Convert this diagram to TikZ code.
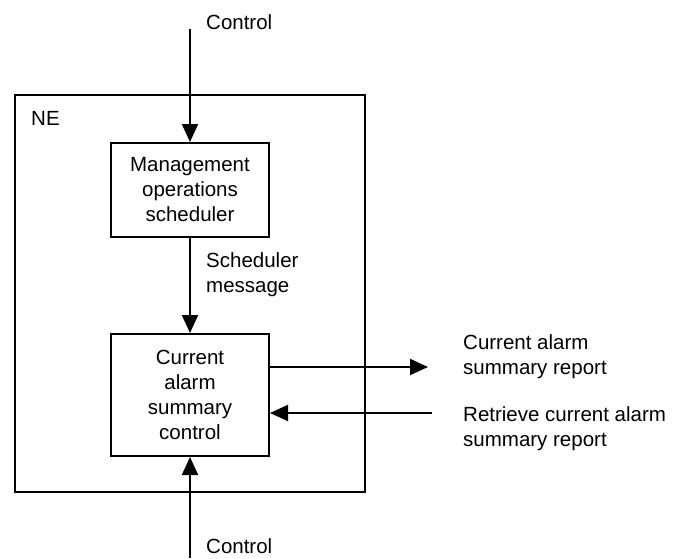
\documentclass[tikz,border=0pt]{standalone}
\usepackage{fontspec}
\setmainfont{Liberation Sans}
\usetikzlibrary{arrows.meta}
\begin{document}
\begin{tikzpicture}[x=1pt,y=1pt,
  every node/.style={font=\fontsize{20.5}{25}\selectfont},
  blk/.style={draw,line width=2pt,align=center,inner sep=0pt},
  lbl/.style={inner sep=0pt,align=left},
  conn/.style={line width=2pt,-{Triangle[length=18pt,width=16pt]}}]
\useasboundingbox (0,0) rectangle (675,-558);
\node[blk,minimum width=350pt,minimum height=397pt] (ne) at (190,-293.5) {};
\node[lbl,anchor=west] (nel) at (31,-118) {NE};
\node[blk,minimum width=158pt,minimum height=94pt] (mgmt) at (190,-190) {Management\\operations\\scheduler};
\node[blk,minimum width=158pt,minimum height=122pt] (cur) at (190,-395) {Current\\alarm\\summary\\control};
\coordinate (ctop) at (190,-29);
\coordinate (cbot) at (190,-558);
\coordinate (rout) at (428,-367);
\coordinate (rin) at (432,-413);
\draw[conn] (ctop) -- (mgmt.north);
\draw[conn] (mgmt.south) -- (cur.north);
\draw[conn] (cbot) -- (cur.south);
\draw[conn] (cur.east |- rout) -- (rout);
\draw[conn] (rin) -- (cur.east |- rin);
\node[lbl,anchor=west] (t1) at (206,-22) {Control};
\node[lbl,anchor=west] (t2) at (206,-275) {Scheduler\\message};
\node[lbl,anchor=west] (t3) at (206,-546) {Control};
\node[lbl,anchor=west] (t4) at (463,-357) {Current alarm\\summary report};
\node[lbl,anchor=west] (t5) at (463,-429) {Retrieve current alarm\\summary report};
\end{tikzpicture}
\end{document}
